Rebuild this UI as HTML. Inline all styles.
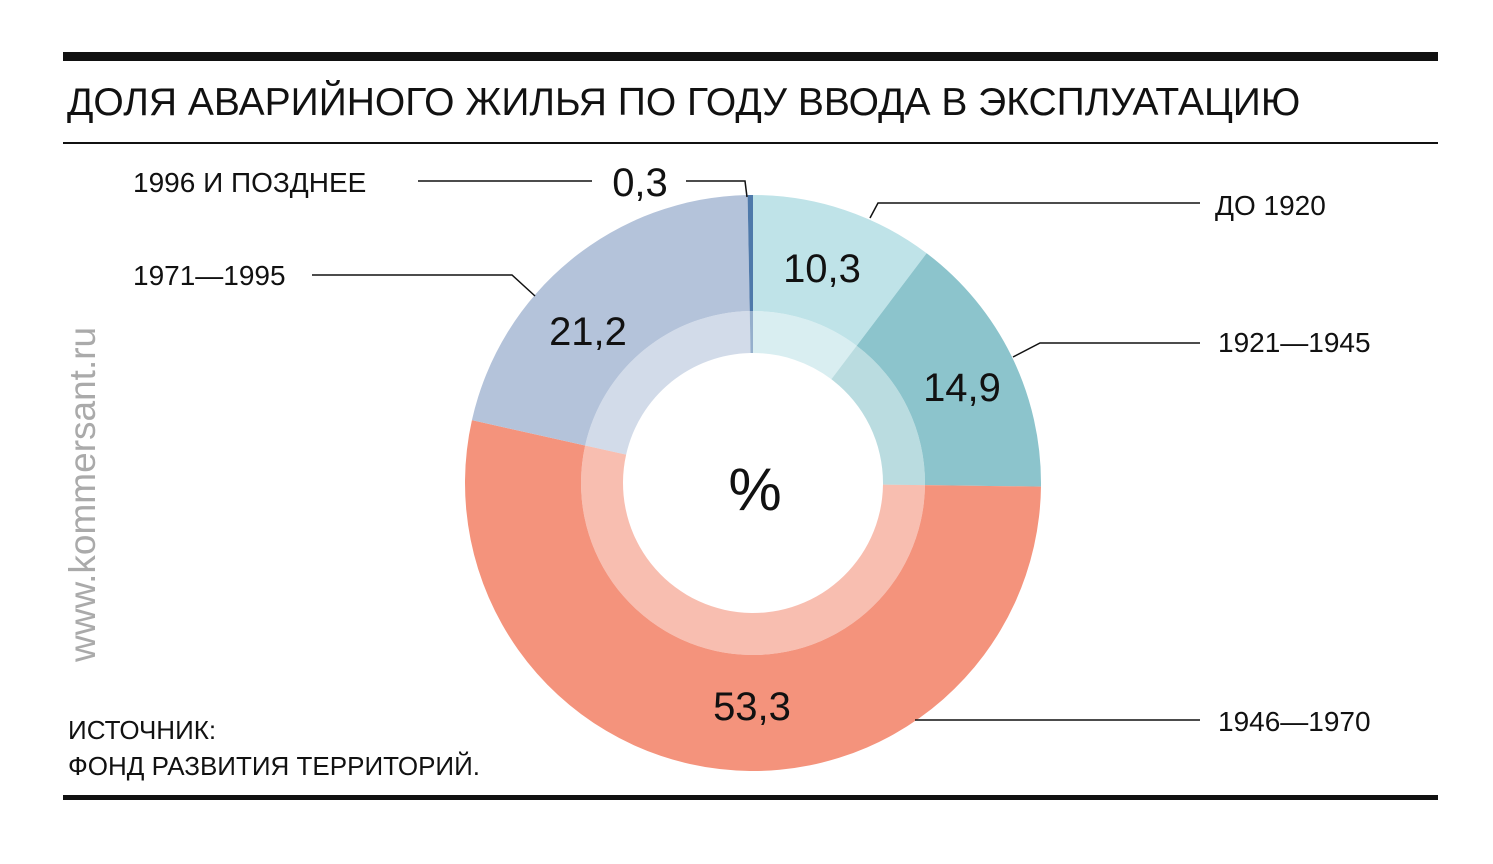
<!DOCTYPE html>
<html><head><meta charset="utf-8"><style>
body{margin:0;background:#fff;}
svg{display:block;font-family:"Liberation Sans",sans-serif;}
</style></head><body>
<svg width="1493" height="864" viewBox="0 0 1493 864">
<rect x="63" y="52" width="1375" height="9" fill="#111"/>
<text x="67" y="115" font-size="39" fill="#111">ДОЛЯ АВАРИЙНОГО ЖИЛЬЯ ПО ГОДУ ВВОДА В ЭКСПЛУАТАЦИЮ</text>
<rect x="63" y="142" width="1375" height="2" fill="#111"/>
<rect x="63" y="795" width="1375" height="5" fill="#111"/>
<text transform="translate(95,662) rotate(-90)" font-size="37" fill="#aaa">www.kommersant.ru</text>
<g id="donut"></g>
<g stroke="#111" stroke-width="1.5" fill="none">
<polyline points="418,181 592,181"/>
<polyline points="686,181 745,181 747,197"/>
<polyline points="1200,203 878,203 870,218"/>
<polyline points="312,275 512,275 535,296"/>
<polyline points="1200,343 1040,343 1013,357"/>
<polyline points="1200,720 915,720"/>
</g>
<g font-size="28" fill="#111">
<text x="133" y="192">1996 И ПОЗДНЕЕ</text>
<text x="1215" y="215">ДО 1920</text>
<text x="133" y="285">1971—1995</text>
<text x="1218" y="352">1921—1945</text>
<text x="1218" y="731">1946—1970</text>
<text x="68" y="739" font-size="26">ИСТОЧНИК:</text>
<text x="68" y="775" font-size="26">ФОНД РАЗВИТИЯ ТЕРРИТОРИЙ.</text>
</g>
<g font-size="40" fill="#111" text-anchor="middle">
<text x="640" y="196">0,3</text>
<text x="822" y="282">10,3</text>
<text x="962" y="401">14,9</text>
<text x="752" y="720">53,3</text>
<text x="588" y="345">21,2</text>
<text x="755" y="510" font-size="60">%</text>
</g>
</svg>
<script>
const categories=["До 1920","1921—1945","1946—1970","1971—1995","1996 и позднее"];
const values=[10.3,14.9,53.3,21.2,0.3];
const colors=["#bfe3e8","#8cc4cc","#f4937c","#b4c3da","#4e79aa"];
const cx=753,cy=483,R=288,r2=172,r1=130;
const g=document.getElementById('donut');
const NS="http://www.w3.org/2000/svg";
const total=values.reduce((a,b)=>a+b,0);
function pt(a,r){return [cx+r*Math.sin(a),cy-r*Math.cos(a)];}
function arc(a0,a1,ro,ri){const l=(a1-a0)>Math.PI?1:0;const p0=pt(a0,ro),p1=pt(a1,ro),p2=pt(a1,ri),p3=pt(a0,ri);
return `M${p0}L${p0}A${ro},${ro} 0 ${l} 1 ${p1}L${p2}A${ri},${ri} 0 ${l} 0 ${p3}Z`;}
let a=0;
values.forEach((v,i)=>{const a1=a+v/total*2*Math.PI;
const p=document.createElementNS(NS,'path');
p.setAttribute('d',arc(a,a1,R,r2));p.setAttribute('fill',colors[i]);


g.appendChild(p);
const q=document.createElementNS(NS,'path');
q.setAttribute('d',arc(a,a1,r2,r1));q.setAttribute('fill',colors[i]);q.setAttribute('opacity','0.6');


g.appendChild(q);
a=a1;});
</script>
</body></html>
